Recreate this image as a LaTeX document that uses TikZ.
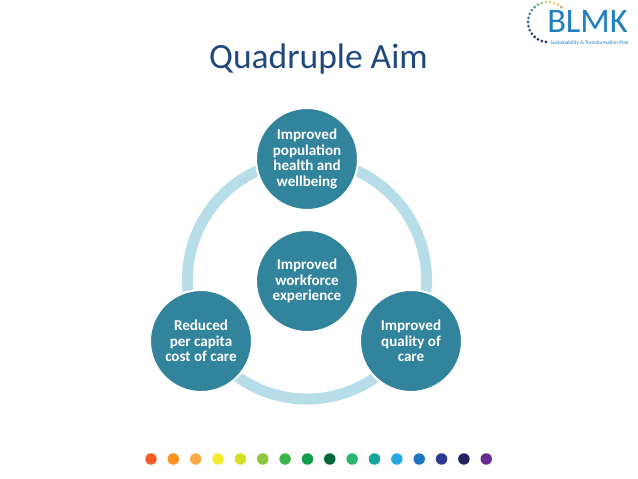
\documentclass[tikz,border=0pt]{standalone}
\usepackage{fontspec}
\setmainfont{Carlito}
\definecolor{teal1}{HTML}{31849B}
\definecolor{ringcol}{HTML}{B7DEE8}
\definecolor{titlec}{HTML}{1F497D}
\definecolor{logoc}{HTML}{1F7FBF}
\tikzset{
  aim/.style={circle,fill=teal1,draw=white,line width=1.5pt,minimum size=76.5pt,inner sep=0pt,align=center,text=white,font=\fontsize{11.3}{11.8}\selectfont\bfseries},
  dotmark/.style={circle,inner sep=0pt,minimum size=8.6pt},
  ldot/.style={circle,inner sep=0pt,minimum size=2.3pt}
}
\begin{document}
\begin{tikzpicture}[x=0.75pt,y=-0.75pt]
\useasboundingbox (0,0) rectangle (638,478);
\fill[white] (0,0) rectangle (638,478);
\node[text=titlec,font=\fontsize{26.6}{30}\selectfont] (title) at (318.5,59) {Quadruple Aim};
\coordinate (ringcentre) at (307,279.5);
\draw[ringcol,line width=8.2pt] (ringcentre) circle[radius=119.5];
\node[aim] (top) at (307,159) {Improved\\population\\health and\\wellbeing};
\node[aim] (left) at (201,341) {Reduced\\per capita\\cost of care};
\node[aim] (right) at (411,341) {Improved\\quality of\\care};
\node[aim] (mid) at (307,281) {Improved\\workforce\\experience};
% bottom colour dots
\foreach \c [count=\i from 0] in {F15A29,F7941D,FBA946,F4EB2C,D7DF23,8DC63F,39B54A,0F9D4A,006838,2BB673,13A89E,27AAE1,1C75BC,2B3990,262262,662D91}{
  \definecolor{dc}{HTML}{\c}
  \node[dotmark,fill=dc] (d\i) at ({151+22.35*\i},459) {};
}
% logo
\node[text=logoc,font=\fontsize{25.8}{26}\selectfont,inner sep=0pt,text height=14pt,text depth=0pt] (blmk) at (587.5,23.5) {BLMK};
\node[text=logoc,font=\fontsize{4}{4.5}\selectfont,inner sep=0pt] (tag) at (589.5,43.5) {Sustainability \& Transformation Plan};
\foreach \a/\c [count=\i] in {
  48/C9A98A,60/E8C25A,72/F0D060,84/E6DC6A,96/C9D46A,108/9CC36A,120/6FB07A,132/5F9F90,144/4F8FA5,156/3F7FB0,168/3A6FA8,180/3F6599,192/3E5A8C,204/3C4C85,216/2A3F7A,228/27346E,240/2A2A66,252/2A2A60,264/3A2A70}{
  \definecolor{dc}{HTML}{\c}
  \node[ldot,fill=dc] (l\i) at ({548+20*cos(\a)},{22-20*sin(\a)}) {};
}
\end{tikzpicture}
\end{document}
